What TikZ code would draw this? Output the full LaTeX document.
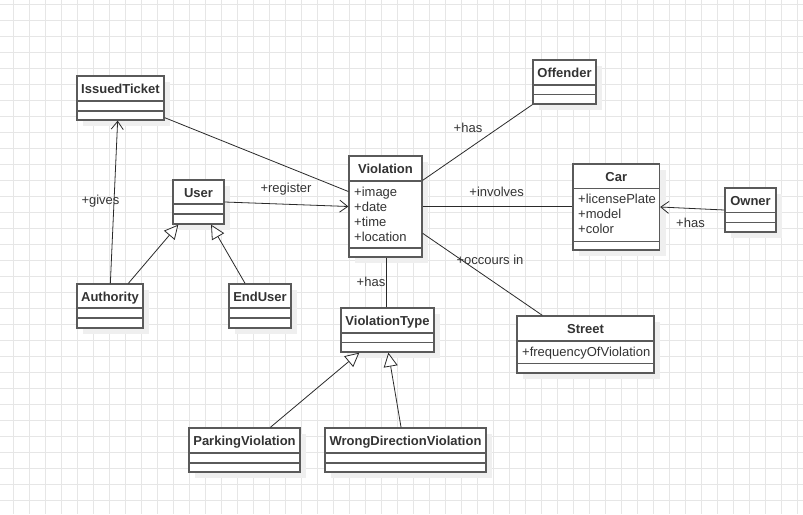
\documentclass[tikz,border=0pt]{standalone}
\usepackage{fontspec}
\setmainfont{Liberation Sans}
\usepackage{tikz}
\usepackage{xcolor}
\usetikzlibrary{arrows.meta}
\usetikzlibrary{calc}

\definecolor{gridc}{HTML}{E6E6E6}
\definecolor{boxc}{HTML}{5A5A5A}
\definecolor{linec}{HTML}{2A2A2A}
\definecolor{textc}{HTML}{333333}
\definecolor{shadowc}{HTML}{EFEFEF}

\tikzset{
  classbox/.style={draw=boxc, fill=white, line width=1.3pt, inner sep=0pt},
  boxline/.style={draw=boxc, line width=1.3pt},
  boxshadow/.style={fill=shadowc},
  classtitle/.style={anchor=base, text=textc, font=\fontsize{13}{15}\selectfont\bfseries},
  attr/.style={anchor=base west, text=textc, font=\fontsize{13}{15}\selectfont, inner sep=0pt},
  rolelabel/.style={text=textc, font=\fontsize{13}{15}\selectfont, inner sep=0pt},
  assoc/.style={draw=linec, line width=0.8pt},
  navarrow/.style={assoc, -{Straight Barb[length=8pt,width=12pt]}},
  inherit/.style={assoc, -{Triangle[length=14pt,width=14pt,fill=white]}}
}

% name, left, top, right, bottom, first sep, second sep, title
\newcommand{\umlclass}[8]{%
  \fill[boxshadow] (#2+6,#3+6) rectangle (#4+6,#5+6);
  \node[classbox, minimum width=#4-#2, minimum height=#5-#3] (#1) at ({(#2+#4)/2},{(#3+#5)/2}) {};
  \draw[boxline] (#2,#6) -- (#4,#6);
  \draw[boxline] (#2,#7) -- (#4,#7);
  \node[classtitle] (#1-title) at ({(#2+#4)/2},{(#3+#6)/2+5}) {#8};
}

\begin{document}
\begin{tikzpicture}[x=1pt, y=-1pt]
		\useasboundingbox (0,0) rectangle (803,514);
		\fill[white] (0,0) rectangle (803,514);
		% grid
		\foreach \x in {0,...,49}
			\draw[gridc, line width=0.6pt] (13.3+16*\x,0) -- (13.3+16*\x,514);
		\foreach \y in {0,...,32}
			\draw[gridc, line width=0.6pt] (0,4.7+16*\y) -- (803,4.7+16*\y);

		% classes
		\umlclass{ticket}{77}{76}{164}{120}{101}{111}{IssuedTicket}
		\umlclass{user}{173}{180}{224}{224}{204}{214}{User}
		\umlclass{auth}{77}{284}{143}{328}{308}{318}{Authority}
		\umlclass{enduser}{229}{284}{291}{328}{308}{318}{EndUser}
		\umlclass{viol}{349}{156}{422}{257}{181}{248}{Violation}
		\umlclass{offender}{533}{60}{596}{104}{85}{94.5}{Offender}
		\umlclass{car}{573}{164}{659.5}{250}{188.5}{241.5}{Car}
		\umlclass{owner}{725}{188}{776}{232}{212.7}{222.7}{Owner}
		\umlclass{street}{517}{316}{654}{373}{341}{363.3}{Street}
		\umlclass{vtype}{341}{308}{434}{352}{333}{342.5}{ViolationType}
		\umlclass{parking}{189}{428}{300}{472}{453}{463}{ParkingViolation}
		\umlclass{wrongdir}{325}{428}{486}{472}{453}{463}{WrongDirectionViolation}

		% attributes
		\foreach \a [count=\i] in {image,date,time,location}
			\node[attr] (viol-a\i) at (354,181+15*\i) {+\a};
		\foreach \a [count=\i] in {licensePlate,model,color}
			\node[attr] (car-a\i) at (578,188.5+15*\i) {+\a};
		\node[attr] (street-a1) at (522,356) {+frequencyOfViolation};

		% connectors
		\draw[navarrow] ([xshift=34pt]auth.north west) -- ([xshift=41.3pt]ticket.south west);
		\draw[inherit] ([xshift=52pt]auth.north west) -- ([xshift=6pt]user.south west);
		\draw[inherit] ([xshift=16.7pt]enduser.north west) -- ([xshift=38.7pt]user.south west);
		\draw[navarrow] (user.east) -- (viol.west);
		\draw[assoc] ([yshift=3pt]ticket.south east) -- ([yshift=15pt]viol.west);
		\draw[assoc] ([yshift=-25pt]viol.north east) -- (offender.south west);
		\draw[assoc] (viol.east) -- (car.west |- viol.east);
		\draw[assoc] ([yshift=-26.8pt]viol.east) -- ([xshift=26pt]street.north west);
		\draw[assoc] ([xshift=1.2pt]viol.south) -- ([xshift=1.2pt]viol.south |- vtype.north);
		\draw[navarrow] (owner.west) -- (car.east);
		\draw[inherit] ([xshift=82pt]parking.north west) -- ([xshift=19pt]vtype.south west);
		\draw[inherit] ([xshift=76.7pt]wrongdir.north west) -- ([xshift=48pt]vtype.south west);

		% role labels
		\node[rolelabel] (l-gives) at (100.5,200.7) {+gives};
		\node[rolelabel] (l-register) at (286,188.7) {+register};
		\node[rolelabel] (l-involves) at (496.7,191.7) {+involves};
		\node[rolelabel] (l-occurs) at (490,260) {+occours in};
		\node[rolelabel] (l-has1) at (468,128.3) {+has};
		\node[rolelabel] (l-has2) at (371,281.7) {+has};
		\node[rolelabel] (l-has3) at (690.5,222.7) {+has};
	\end{tikzpicture}
\end{document}
